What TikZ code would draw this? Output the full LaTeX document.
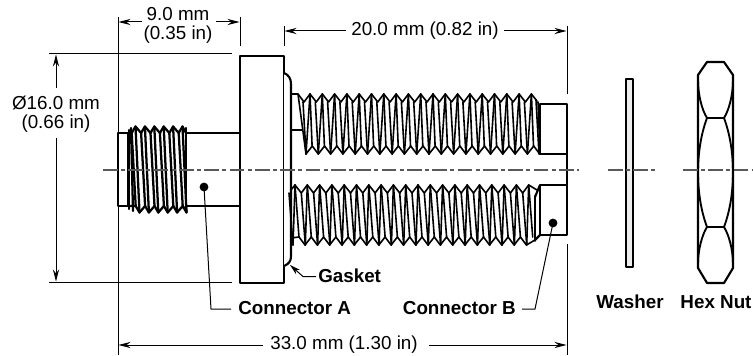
\documentclass[tikz,border=0pt]{standalone}
\usepackage{fontspec}
\setmainfont{Liberation Sans}
\usetikzlibrary{arrows.meta}
\tikzset{
 part/.style={draw=black,line width=1.6pt,fill=white,line join=round},
 thick part/.style={draw=black,line width=1.6pt,line join=round},
 thr/.style={draw=black,line width=1.2pt,line join=round,line cap=round},
 thrA/.style={draw=black,line width=1.7pt,line join=round,line cap=round},
 dimline/.style={draw=black,line width=0.75pt},
 dimarrow/.style={draw=black,line width=0.75pt,-{Stealth[length=9pt,width=4.6pt]}},
 leader/.style={draw=black,line width=0.75pt},
 center line/.style={draw=black!65,line width=1pt,dash pattern=on 11pt off 2.5pt on 3pt off 2.5pt},
 dimtext/.style={font=\fontsize{14.1}{14.2}\selectfont,inner sep=0pt,align=center},
 boldtext/.style={font=\fontsize{14.1}{14.2}\selectfont\bfseries,inner sep=0pt},
 dot/.style={circle,fill=black,inner sep=0pt,minimum size=6.6pt}
}
\begin{document}
\begin{tikzpicture}[x=0.75pt,y=-0.75pt]
\useasboundingbox (0,0) rectangle (753,356);
\fill[white] (0,0) rectangle (753,356);
% extension lines
\coordinate (d1a) at (118,17); \coordinate (d1b) at (118,133);
\coordinate (d1c) at (118,206); \coordinate (d1d) at (118,355);
\coordinate (d2a) at (240,17); \coordinate (d2b) at (240,46);
\coordinate (d3a) at (284,26); \coordinate (d3b) at (284,46);
\coordinate (d4a) at (567,26); \coordinate (d4b) at (567,94);
\coordinate (d4c) at (567,244); \coordinate (d4d) at (567,355);
\coordinate (d5a) at (49,54); \coordinate (d5b) at (232,54);
\coordinate (d6a) at (49,282); \coordinate (d6b) at (232,282);
\foreach \a/\b in {d1a/d1b,d1c/d1d,d2a/d2b,d3a/d3b,d4a/d4b,d4c/d4d,d5a/d5b,d6a/d6b}
  \draw[dimline] (\a) -- (\b);
% center lines
\coordinate (c1a) at (103,170); \coordinate (c1b) at (579,170);
\coordinate (c2a) at (608,170); \coordinate (c2b) at (655,170);
\coordinate (c3a) at (683,170); \coordinate (c3b) at (753,170);
% connector A body
\draw[part] (118,133) -- (128,133) -- (128,206) -- (118,206) -- cycle;
\draw[part] (186,133) rectangle (240,206);
% connector A thread
\fill[white] (128,128) rectangle (186,212);
\draw[thrA] (129,133)
 \foreach \k in {0,...,5} { -- ({135.5+9.4*\k-3.8},133) -- ({135.5+9.4*\k},126.5) } -- (186,133);
\draw[thrA] (129,206)
 \foreach \k in {0,...,5} { -- ({139.5+9.4*\k-3.8},206) -- ({139.5+9.4*\k},212.5) } -- (186,206);
\foreach \k in {0,...,5} {
  \draw[thrA] ({135.5+9.4*\k},126.5) -- ({139.5+9.4*\k},212.5);
  \draw[thrA] ({131.7+9.4*\k},133) -- ({135.7+9.4*\k},206);
}
\draw[thrA] (129,130) -- (129,209);
\draw[thrA] (131,128) -- (133,211);
\draw[thrA] (186,128) -- (186,211);
% flange
\draw[part] (240,56) rectangle (284,283);
% gasket
\draw[part] (284,73) .. controls (289,75) and (291,79) .. (291,84) -- (291,256) .. controls (291,261) and (289,264) .. (284,266);
% upper shank
\draw[thick part] (291,94) -- (298,94);
\draw[thick part] (291,130) -- (303,130);
% upper thread
\draw[thr] (298,94) \foreach \k in {0,...,18} { -- ({304+12.3*\k},102) -- ({310+12.3*\k},94) } -- (537,101);
\draw[thr] (298,94) -- (306,154) \foreach \k in {1,...,19} { -- ({300+12.3*\k},146) -- ({306+12.3*\k},154) };
\foreach \k in {0,...,18} {
  \draw[thr] ({310+12.3*\k},94) -- ({306+12.3*\k},154);
  \draw[thr] ({303+12.3*\k},102) -- ({306+12.3*\k},154);
  \draw[thr] ({310+12.3*\k},94) -- ({312.1+12.3*\k},146);
}
\draw[thr] (536,100) -- (539,154);
\draw[thr] (538,102) -- (540,154);
% upper end
\draw[part] (540,104) rectangle (567,154);
% lower thread
\draw[thr] (291,190) -- (295,185) \foreach \k in {1,...,19} { -- ({289+12.3*\k},193) -- ({295+12.3*\k},185) } -- (537,190);
\draw[thr] (291,238) \foreach \k in {0,...,18} { -- ({299+12.3*\k},237) -- ({305+12.3*\k},245) } -- (535,240);
\foreach \k in {0,...,19} {
  \draw[thr] ({295+12.3*\k},185) -- ({299+12.3*\k},237);
  \draw[thr] ({295+12.3*\k},185) -- ({293+12.3*\k},245);
  \draw[thr] ({293+12.3*\k},245) -- ({289+12.3*\k},193);
}
\fill[white] (541,180) rectangle (566,234);
\draw[thr] (535,196) -- (535,241);
\draw[thick part] (540,185) -- (535,197);
\draw[thick part] (540,235) -- (535,240);
% lower end
\draw[part] (540,185) rectangle (567,235);
\draw[thick part] (567,154) -- (567,185);
% center lines drawn over the parts
\draw[center line] (c1a) -- (c1b);
% washer
\draw[part,fill=white!93!black] (626,79) rectangle (633,267);
\draw[center line] (c2a) -- (c2b);
% hex nut
\draw[part,fill=none] (707,62) -- (724,62) -- (733,75) -- (733,268) -- (724,283) -- (707,283) -- (698,268) -- (698,75) -- cycle;
\draw[thick part,line width=1.4pt] (698,80) .. controls (698,95) and (702,110) .. (707,118) -- (724,118) .. controls (729,110) and (733,95) .. (733,80);
\draw[thick part,line width=1.4pt] (698,264) .. controls (698,250) and (702,235) .. (707,227) -- (724,227) .. controls (729,235) and (733,250) .. (733,264);
\draw[thick part,line width=1.4pt] (707,118) .. controls (695,150) and (695,195) .. (707,227);
\draw[thick part,line width=1.4pt] (724,118) .. controls (736,150) and (736,195) .. (724,227);
\draw[center line] (c3a) -- (c3b);
% dimension labels and arrows
\node[dimtext] (t9) at (178,25) {9.0 mm\\(0.35 in)};
\coordinate (a1) at (118.5,22); \coordinate (a2) at (142,22);
\coordinate (a3) at (239.5,22); \coordinate (a4) at (216,22);
\draw[dimarrow] (a2) -- (a1);
\draw[dimarrow] (a4) -- (a3);
\node[dimtext] (t16) at (56,114) {Ø16.0 mm\\(0.66 in)};
\coordinate (b1) at (56,54.5);
\coordinate (b2) at (56,281.5);
\draw[dimarrow] (56,88) -- (b1);
\draw[dimarrow] (56,138) -- (b2);
\node[dimtext] (t20) at (425,31) {20.0 mm (0.82 in)};
\coordinate (e1) at (284.5,31); \coordinate (e2) at (566.5,31);
\draw[dimarrow] (t20.west) ++(-5,0) -- (e1);
\draw[dimarrow] (t20.east) ++(5,0) -- (e2);
\node[dimtext] (t33) at (344,345) {33.0 mm (1.30 in)};
\coordinate (f1) at (118.5,345); \coordinate (f2) at (566.5,345);
\draw[dimarrow] (t33.west) ++(-7,0) -- (f1);
\draw[dimarrow] (t33.east) ++(11,0) -- (f2);
% callouts
\node[boldtext,anchor=west] (ga) at (318,276) {Gasket};
\coordinate (g1) at (303,276.5); \coordinate (g2) at (290,265);
\draw[draw=black,line width=0.75pt,-{Stealth[length=8pt,width=4.4pt]}] (316,276.5) -- (g1) -- (g2);
\node[boldtext,anchor=west] (ca) at (238,308) {Connector A};
\node[dot] (da) at (204,187) {};
\coordinate (l1) at (211,309);
\draw[leader] (da.center) -- (l1) -- (231,309);
\node[boldtext,anchor=east] (cb) at (516,308) {Connector B};
\node[dot] (db) at (553,223) {};
\coordinate (l2) at (535,309);
\draw[leader] (db.center) -- (l2) -- (522,309);
\node[boldtext] (wa) at (630,302) {Washer};
\node[boldtext] (hn) at (716,302) {Hex Nut};
\end{tikzpicture}
\end{document}
